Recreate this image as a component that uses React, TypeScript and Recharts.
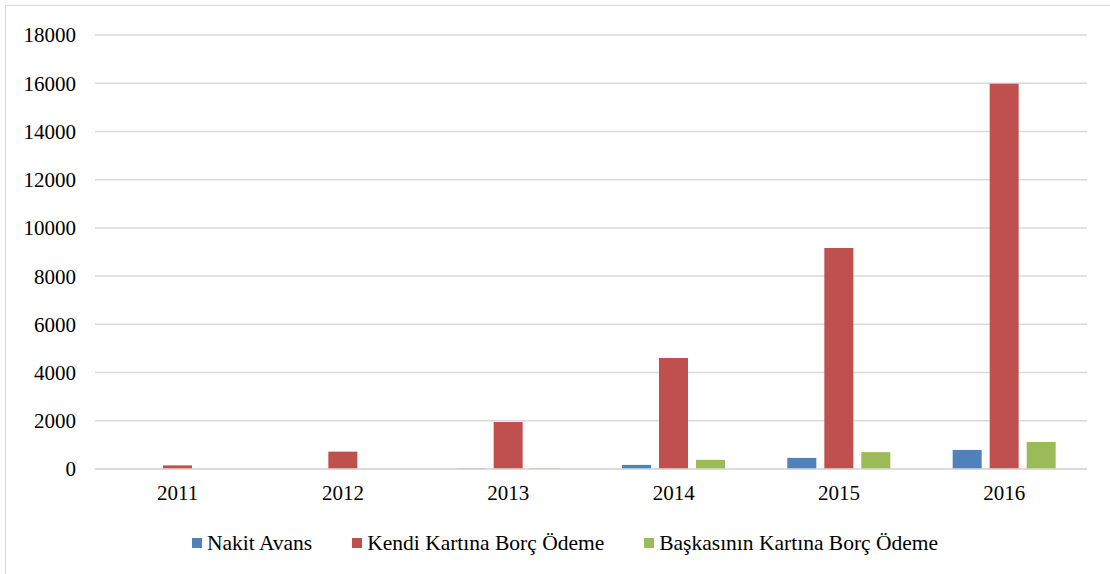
import React from 'react';
import { Bar, BarChart, CartesianGrid, Legend, XAxis, YAxis } from 'recharts';

// values
const years = ['2011', '2012', '2013', '2014', '2015', '2016'];
const nakitAvans = [0, 0, 30, 170, 460, 790];
const kendiKartina = [150, 720, 1950, 4600, 9170, 15980];
const baskasininKartina = [0, 0, 45, 380, 700, 1120];
const yTicks = [0, 2000, 4000, 6000, 8000, 10000, 12000, 14000, 16000, 18000];

const seriesNames = ['Nakit Avans', 'Kendi Kartına Borç Ödeme', 'Başkasının Kartına Borç Ödeme'];
const seriesColors = ['#4f81bd', '#c0504d', '#9bbb59'];

const data = years.map((year, i) => ({
  year,
  nakit: nakitAvans[i],
  kendi: kendiKartina[i],
  baska: baskasininKartina[i],
}));

const font = 'Liberation Serif, Times New Roman, serif';

const LegendRow = () => (
  <div style={{ display: 'flex', justifyContent: 'center', alignItems: 'center', color: '#000', lineHeight: '24px' }}>
    {seriesNames.map((name, i) => (
      <div key={name} style={{ display: 'flex', alignItems: 'center', marginRight: i < seriesNames.length - 1 ? 40 : 0 }}>
        <span style={{ width: 10, height: 10, background: seriesColors[i], marginRight: 5, display: 'inline-block' }} />
        <span style={{ fontFamily: font, fontSize: 21.5 }}>{name}</span>
      </div>
    ))}
  </div>
);

const App = () => {
  return (
    <div style={{ position: 'absolute', left: 0, top: 0, width: 1110, height: 574, overflow: 'hidden', background: '#fff', fontFamily: font }}>
      <div style={{ position: 'absolute', left: 5, top: 5, width: 1120, height: 600, border: '1px solid #d9d9d9' }} />
      <BarChart width={1110} height={574} data={data} margin={{ top: 35, right: 23, left: 0, bottom: 0 }} barGap={8} barSize={29}>
        <CartesianGrid vertical={false} stroke='#d9d9d9' strokeWidth={1.5} />
        <XAxis dataKey='year' height={105} tickLine={false} tickSize={0} tickMargin={16} axisLine={{ stroke: '#d9d9d9', strokeWidth: 1.5 }} tick={{ fill: '#000', fontSize: 21, fontFamily: font }} />
        <YAxis width={95} domain={[0, 18000]} ticks={yTicks} interval={0} tickLine={false} tickSize={0} tickMargin={19} axisLine={false} tick={{ fill: '#000', fontSize: 21, fontFamily: font }} />
        <Legend verticalAlign='middle' content={<LegendRow />} wrapperStyle={{ top: 531, left: 10, width: 1110, fontFamily: font }} />
        <Bar dataKey='nakit' name={seriesNames[0]} fill={seriesColors[0]} isAnimationActive={false} />
        <Bar dataKey='kendi' name={seriesNames[1]} fill={seriesColors[1]} isAnimationActive={false} />
        <Bar dataKey='baska' name={seriesNames[2]} fill={seriesColors[2]} isAnimationActive={false} />
      </BarChart>
    </div>
  );
};

export default App;
